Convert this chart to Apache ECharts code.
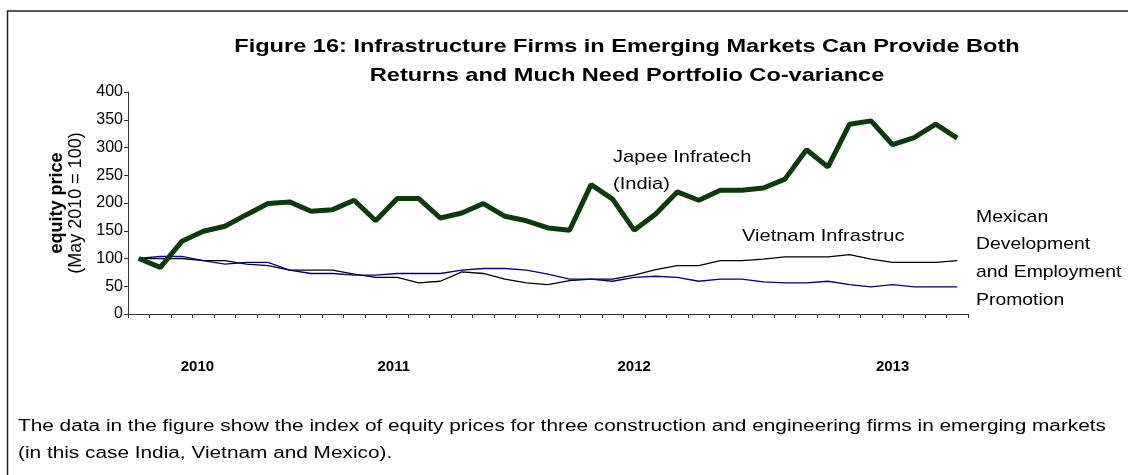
<!DOCTYPE html>
<html>
<head>
<meta charset="utf-8">
<script src="https://cdn.jsdelivr.net/npm/echarts@6/dist/echarts.min.js"></script>
<style>
  html, body { margin: 0; padding: 0; background: #fff; }
  #chart { width: 1128px; height: 475px; }
</style>
</head>
<body>
<div id="chart"></div>
<script>
// monthly points, May 2010 = 100
const months = Array.from({ length: 39 }, (_, i) => {
  const m = (4 + i) % 12;
  const y = 2010 + Math.floor((4 + i) / 12);
  return `${y}-${String(m + 1).padStart(2, '0')}`;
});
const yearLabelIdx = [3, 12, 23, 35];
const yearLabels = ['2010', '2011', '2012', '2013'];

const japee = [100, 84, 131, 149, 158, 179, 199, 202, 185, 188, 205, 168, 208, 208, 173,
  182, 199, 176, 168, 155, 151, 233, 207, 151, 180, 220, 205, 223, 223, 227, 243, 296,
  265, 342, 348, 305, 318, 342, 317];
const vietnam = [100, 100, 100, 96, 96, 90, 87, 79, 79, 79, 72, 66, 66, 56, 59, 76, 73,
  63, 56, 53, 60, 63, 63, 70, 80, 87, 87, 96, 96, 99, 103, 103, 103, 107, 99, 93, 93, 93, 96];
const mexican = [100, 104, 104, 96, 90, 93, 93, 79, 73, 73, 70, 70, 73, 73, 73, 79, 82, 82,
  79, 72, 63, 63, 59, 66, 68, 66, 59, 63, 63, 58, 56, 56, 59, 53, 49, 53, 49, 49, 49];

const FONT = 'Liberation Sans, Arial, sans-serif';

const myChart = echarts.init(document.getElementById('chart'), null, { renderer: 'canvas' });

// the source text is set wide, so free text gets a horizontal stretch
function wideText(x, y, text, font, lineHeight, scaleX, align) {
  return {
    type: 'text',
    x,
    y,
    scaleX,
    silent: true,
    style: {
      text,
      x: 0,
      y: 0,
      font,
      lineHeight,
      fill: '#000',
      textAlign: align || 'left',
      textVerticalAlign: 'top',
      verticalAlign: 'top',
    },
  };
}

const option = {
  animation: false,
  textStyle: { fontFamily: FONT, color: '#000' },
  grid: { left: 128, right: 160, top: 92, bottom: 161 },
  xAxis: {
    type: 'category',
    data: months,
    boundaryGap: true,
    axisLine: { lineStyle: { color: '#333', width: 1 } },
    axisTick: { show: true, interval: 0, length: 4, lineStyle: { color: '#333' } },
    axisLabel: {
      interval: 0,
      margin: 45,
      formatter: (val, idx) => {
        const k = yearLabelIdx.indexOf(idx);
        return k >= 0 ? `{y${k}|${yearLabels[k]}}` : '';
      },
      rich: {
        y0: { fontFamily: FONT, fontSize: 15, fontWeight: 'bold', padding: [0, 12, 0, 0] },
        y1: { fontFamily: FONT, fontSize: 15, fontWeight: 'bold', padding: [0, 7, 0, 0] },
        y2: { fontFamily: FONT, fontSize: 15, fontWeight: 'bold' },
        y3: { fontFamily: FONT, fontSize: 15, fontWeight: 'bold' },
      },
    },
    splitLine: { show: false },
  },
  yAxis: {
    type: 'value',
    min: 0,
    max: 400,
    interval: 50,
    name: '{b|equity price}\n{n|(May 2010 = 100)}',
    nameLocation: 'middle',
    nameRotate: 90,
    nameGap: 25,
    nameTextStyle: {
      rich: {
        b: { fontFamily: FONT, fontSize: 18, fontWeight: 'bold', lineHeight: 19 },
        n: { fontFamily: FONT, fontSize: 18, lineHeight: 19 },
      },
    },
    axisLine: { show: true, lineStyle: { color: '#333', width: 1 } },
    axisTick: { show: true, length: 4, lineStyle: { color: '#333' } },
    axisLabel: { fontFamily: FONT, fontSize: 16, color: '#000', margin: 5 },
    splitLine: { show: false },
  },
  series: [
    {
      name: 'Japee Infratech (India)',
      type: 'line',
      data: japee,
      symbol: 'none',
      lineStyle: { color: '#0b3b0b', width: 5 },
      z: 3,
    },
    {
      name: 'Vietnam Infrastruc',
      type: 'line',
      data: vietnam,
      symbol: 'none',
      lineStyle: { color: '#000', width: 1.3 },
      z: 2,
    },
    {
      name: 'Mexican Development and Employment Promotion',
      type: 'line',
      data: mexican,
      symbol: 'none',
      lineStyle: { color: '#000080', width: 1.3 },
      z: 2,
    },
  ],
  graphic: [
    {
      type: 'rect',
      shape: { x: 7.5, y: 11, width: 1130, height: 480 },
      style: { fill: 'none', stroke: '#222', lineWidth: 1.5 },
      silent: true,
    },
    wideText(627, 32,
      'Figure 16: Infrastructure Firms in Emerging Markets Can Provide Both\nReturns and Much Need Portfolio Co-variance',
      `bold 19px ${FONT}`, 29, 1.24, 'center'),
    wideText(613, 144, 'Japee Infratech\n(India)', `17px ${FONT}`, 27, 1.18),
    wideText(742, 223, 'Vietnam Infrastruc', `17px ${FONT}`, 27, 1.18),
    wideText(976, 203, 'Mexican\nDevelopment\nand Employment\nPromotion', `17px ${FONT}`, 27.7, 1.14),
    wideText(18, 413.5,
      'The data in the figure show the index of equity prices for three construction and engineering firms in emerging markets\n(in this case India, Vietnam and Mexico).',
      `16px ${FONT}`, 27, 1.3),
  ],
};

myChart.setOption(option);
</script>
</body>
</html>
